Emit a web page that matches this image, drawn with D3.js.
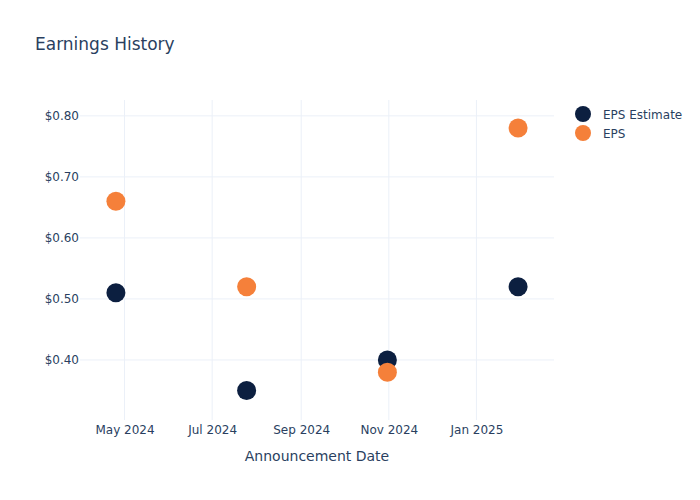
<!DOCTYPE html>
<html><head><meta charset="utf-8">
<script src="https://cdn.jsdelivr.net/npm/d3@7"></script>
<style>body{margin:0;background:#fff}svg{display:block}text{font-family:"DejaVu Sans","Open Sans",sans-serif}</style>
</head><body>
<svg id="c" width="700" height="500"></svg>
<script>
const dates = ["2024-04-25","2024-07-25","2024-10-31","2025-01-30"];
const epsEstimate = [0.51, 0.35, 0.40, 0.52];
const eps = [0.66, 0.52, 0.38, 0.78];
const yTicks = [0.40, 0.50, 0.60, 0.70, 0.80];
const xTicks = ["2024-05-01","2024-07-01","2024-09-01","2024-11-01","2025-01-01"];
const seriesNames = ["EPS Estimate","EPS"];
const colors = ["#0c1f40","#f5803a"];

const parse = d3.utcParse("%Y-%m-%d");
const svg = d3.select("#c");
const m = {l:80, r:146, t:100, b:80};
const W = 700, H = 500;
const x = d3.scaleUtc().domain([parse("2024-03-31").getTime()+0.0*864e5, parse("2025-02-24").getTime()+0.0*864e5].map(t=>new Date(t))).range([m.l, W-m.r]);
const y = d3.scaleLinear().domain([0.3016, 0.826]).range([H-m.b, m.t]);
const ink = "#2a3f5f", grid = "#ebf0f8";

// grid
svg.append("g").selectAll("line").data(xTicks).join("line")
  .attr("x1", d=>x(parse(d))).attr("x2", d=>x(parse(d)))
  .attr("y1", m.t).attr("y2", H-m.b).attr("stroke", grid).attr("stroke-width",1);
svg.append("g").selectAll("line").data(yTicks).join("line")
  .attr("x1", m.l).attr("x2", W-m.r)
  .attr("y1", d=>y(d)).attr("y2", d=>y(d)).attr("stroke", grid).attr("stroke-width",1);

// axes
const xa = svg.append("g").attr("transform",`translate(0,${H-m.b})`)
  .call(d3.axisBottom(x).tickValues(xTicks.map(parse)).tickFormat(d3.utcFormat("%b %Y")).tickSize(0).tickPadding(5));
xa.select(".domain").remove();
xa.selectAll("text").attr("fill", ink).style("font-size","12px");
const ya = svg.append("g").attr("transform",`translate(${m.l},0)`)
  .call(d3.axisLeft(y).tickValues(yTicks).tickFormat(d=>"$"+d.toFixed(2)).tickSize(0).tickPadding(1));
ya.select(".domain").remove();
ya.selectAll("text").attr("fill", ink).style("font-size","12px");

// points
const series = [epsEstimate, eps];
series.forEach((vals, i) => {
  svg.append("g").selectAll("circle").data(vals).join("circle")
    .attr("cx", (d,j)=>x(parse(dates[j]))).attr("cy", d=>y(d))
    .attr("r", 9.5).attr("fill", colors[i]);
});

// titles
svg.append("text").attr("x",35).attr("y",50).attr("fill",ink).style("font-size","17px").text("Earnings History");
svg.append("text").attr("x",(m.l+W-m.r)/2).attr("y",461).attr("text-anchor","middle").attr("fill",ink).style("font-size","14px").text("Announcement Date");

// legend
const lg = svg.append("g").selectAll("g").data(seriesNames).join("g")
  .attr("transform",(d,i)=>`translate(583,${114+i*19})`);
lg.append("circle").attr("r",8).attr("fill",(d,i)=>colors[i]);
lg.append("text").attr("x",20).attr("y",4.5).attr("fill",ink).style("font-size","12px").text(d=>d);
</script>
</body></html>
